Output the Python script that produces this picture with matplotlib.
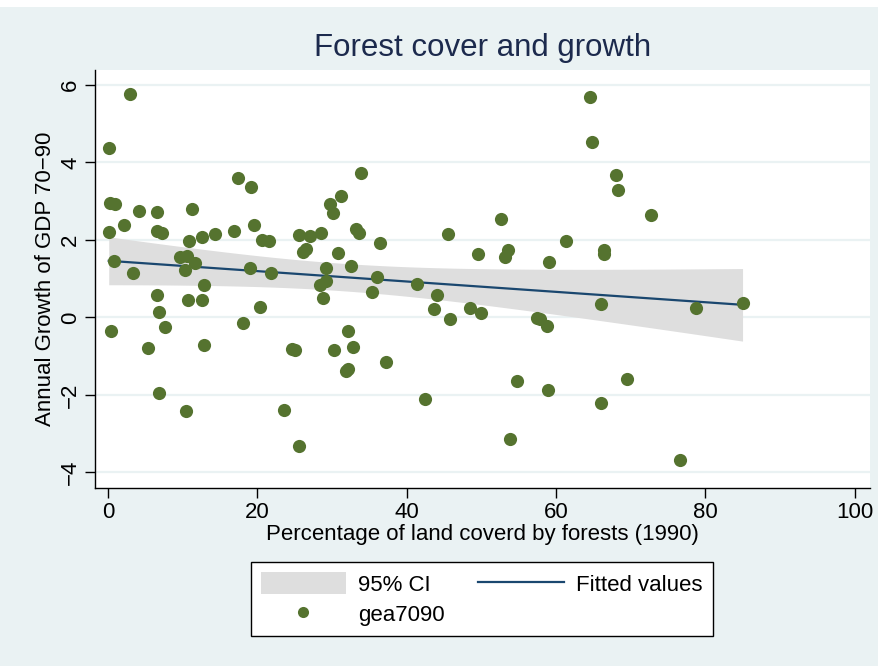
import numpy as np
import matplotlib
matplotlib.use("Agg")
import matplotlib.pyplot as plt
from matplotlib.patches import Rectangle, Patch
from matplotlib.lines import Line2D

plt.rcParams.update({
    "font.family": ["Liberation Sans", "DejaVu Sans"],
    "axes.linewidth": 1.0,
})

# forest share of land area (1990) and annual GDP growth 1970-90
forest = [3.0, 0.2, 0.3, 1.0, 4.2, 6.5, 11.3, 2.1, 0.1, 6.6, 7.2, 10.9,
          12.6, 14.4, 16.9, 17.4, 19.2, 19.5, 20.6, 21.6, 0.8, 3.3, 9.7, 10.6,
          11.6, 10.3, 12.9, 19.0, 21.9, 6.5, 10.7, 12.6, 6.8, 20.4, 0.45, 7.6,
          18.1, 5.4, 12.9, 24.6, 6.8, 10.5, 23.6, 33.9, 31.2, 29.8, 30.2, 25.6,
          27.0, 28.5, 33.2, 33.6, 45.6, 36.4, 26.1, 26.5, 30.8, 49.6, 29.2, 32.6,
          28.4, 29.2, 36.1, 41.4, 28.8, 35.4, 44.1, 43.7, 48.5, 45.8, 50.0, 32.1,
          25.0, 30.3, 32.8, 31.9, 32.1, 37.2, 42.4, 25.6, 64.5, 64.8, 68.0, 68.3,
          52.7, 72.8, 61.4, 53.2, 53.6, 66.4, 66.5, 59.1, 66.0, 78.7, 85.0, 57.4,
          57.9, 58.8, 54.8, 58.9, 69.5, 66.0, 53.8, 76.6]
gea7090 = [5.76, 4.37, 2.95, 2.92, 2.74, 2.71, 2.79, 2.39, 2.21, 2.23, 2.19, 1.96,
           2.07, 2.15, 2.23, 3.59, 3.37, 2.38, 2.00, 1.96, 1.46, 1.14, 1.57, 1.58,
           1.41, 1.23, 0.84, 1.28, 1.14, 0.57, 0.46, 0.46, 0.14, 0.26, -0.34, -0.26,
           -0.15, -0.80, -0.71, -0.82, -1.94, -2.43, -2.40, 3.74, 3.13, 2.92, 2.69, 2.12,
           2.10, 2.18, 2.29, 2.18, 2.15, 1.91, 1.70, 1.76, 1.66, 1.63, 1.28, 1.32,
           0.83, 0.95, 1.04, 0.86, 0.49, 0.66, 0.59, 0.22, 0.25, -0.03, 0.12, -0.35,
           -0.83, -0.83, -0.76, -1.38, -1.32, -1.14, -2.12, -3.31, 5.70, 4.54, 3.67, 3.30,
           2.54, 2.65, 1.98, 1.56, 1.73, 1.63, 1.73, 1.42, 0.35, 0.24, 0.37, -0.01,
           -0.03, -0.23, -1.65, -1.87, -1.59, -2.22, -3.13, -3.67]

x_ticks = [0, 20, 40, 60, 80, 100]
y_ticks = [-4, -2, 0, 2, 4, 6]
y_tick_labels = ["\u22124", "\u22122", "0", "2", "4", "6"]

BG = "#EAF2F3"
GREEN = "#55732F"
NAVY = "#1A476F"
CI_GRAY = "#DEDEDE"

x = np.array(forest)
y = np.array(gea7090)

# linear fit with 95% confidence band for the mean
n = len(x)
b1, b0 = np.polyfit(x, y, 1)
resid = y - (b0 + b1 * x)
s = np.sqrt(np.sum(resid ** 2) / (n - 2))
xg = np.linspace(x.min(), x.max(), 100)
yg = b0 + b1 * xg
se = s * np.sqrt(1 / n + (xg - x.mean()) ** 2 / np.sum((x - x.mean()) ** 2))
tcrit = 1.984
lo, hi = yg - tcrit * se, yg + tcrit * se

fig = plt.figure(figsize=(8.79, 6.66), dpi=100, facecolor=BG)
fig.patches.append(Rectangle((0, 0.989), 1, 0.011, transform=fig.transFigure,
                             facecolor="white", edgecolor="none", zorder=0))

ax = fig.add_axes([0.108, 0.267, 0.882, 0.628])
ax.set_facecolor("white")
ax.fill_between(xg, lo, hi, color=CI_GRAY, linewidth=0, zorder=1)
ax.plot(xg, yg, color=NAVY, lw=1.6, zorder=2)
ax.scatter(x, y, s=90, color=GREEN, linewidths=0, zorder=3)

ax.set_xlim(-1.75, 102.1)
ax.set_ylim(-4.41, 6.39)
ax.set_xticks(x_ticks)
ax.set_yticks(y_ticks)
ax.set_yticklabels(y_tick_labels, rotation=90, va="center")
ax.tick_params(labelsize=16, length=7, width=1.0, colors="black", pad=3)
ax.grid(axis="y", color=BG, lw=1.6, zorder=0)
ax.set_axisbelow(True)
for side in ("top", "right"):
    ax.spines[side].set_visible(False)

ax.set_xlabel("Percentage of land coverd by forests (1990)", fontsize=16, labelpad=1)
ax.set_ylabel("Annual Growth of GDP 70\u221290", fontsize=16, labelpad=3)
ax.set_title("Forest cover and growth", fontsize=22.5, color="#1C2A4D", pad=10)

handles = [
    Patch(facecolor=CI_GRAY, edgecolor="none", label="95% CI"),
    Line2D([0], [0], marker="o", linestyle="", markersize=8,
           markerfacecolor=GREEN, markeredgewidth=0, label="gea7090"),
    Line2D([0], [0], color=NAVY, lw=1.6, label="Fitted values"),
]
leg = fig.legend(handles=handles, ncol=2, loc="center",
                 bbox_to_anchor=(0.548, 0.100), fontsize=16, frameon=True,
                 fancybox=False, framealpha=1, facecolor="white",
                 edgecolor="black", handlelength=3.85, handleheight=1.13,
                 handletextpad=0.55, columnspacing=1.5, borderpad=0.45,
                 labelspacing=0.32)
leg.get_frame().set_linewidth(1.0)

fig.savefig("out.png", dpi=100, facecolor=BG)
